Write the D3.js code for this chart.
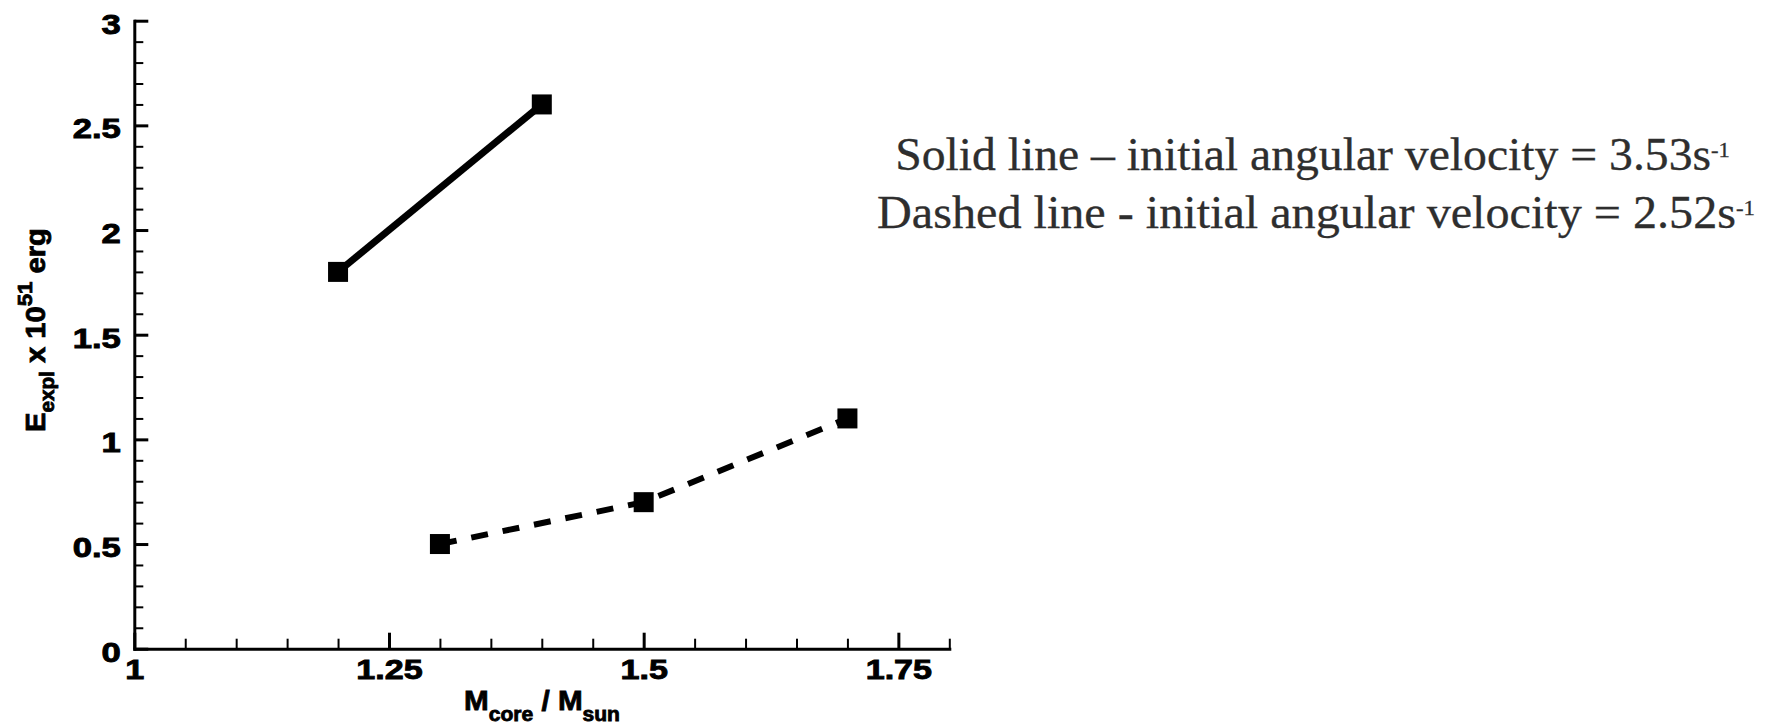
<!DOCTYPE html>
<html>
<head>
<meta charset="utf-8">
<script src="https://cdn.jsdelivr.net/npm/d3@7"></script>
<style>
  body { margin: 0; background: #fff; }
  svg { display: block; }
</style>
</head>
<body>
<div id="chart"></div>
<script>
// chart values
var xMajor = [1, 1.25, 1.5, 1.75];
var yMajor = [0, 0.5, 1, 1.5, 2, 2.5, 3];
var solidMass = [1.2, 1.4];
var solidEnergy = [1.8, 2.6];
var dashedMass = [1.3, 1.5, 1.7];
var dashedEnergy = [0.5, 0.7, 1.1];
var legendLines = [
  { text: "Solid line \u2013 initial angular velocity = 3.53s", sup: "-1" },
  { text: "Dashed line - initial angular velocity = 2.52s", sup: "-1" }
];

var svgWidth = 1771;
var svgHeight = 725;

var svg = d3.select("#chart")
  .append("svg")
  .attr("width", svgWidth)
  .attr("height", svgHeight);

var xScale = d3.scaleLinear().domain([1, 1.8]).range([134.3, 949.3]);
var yScale = d3.scaleLinear().domain([0, 3]).range([648.7, 20.7]);
var x0 = yScale(0);
var y0 = xScale(1);

// minor ticks every 0.05 / 0.1
var xMinor = d3.range(0, 17).map(i => +(1 + i * 0.05).toFixed(2))
  .filter(v => xMajor.indexOf(v) < 0);
var yMinor = d3.range(0, 31).map(i => +(i / 10).toFixed(1))
  .filter(v => yMajor.indexOf(v) < 0);

var labelFont = "'Liberation Sans', Arial, Helvetica, sans-serif";

// stretch tick labels sideways like the original
function stretch(sel, k) {
  sel.each(function() {
    var w = this.getComputedTextLength();
    d3.select(this).attr("textLength", w * k).attr("lengthAdjust", "spacingAndGlyphs");
  });
}

// minor ticks
svg.append("g")
  .attr("transform", `translate(0, ${x0})`)
  .call(d3.axisBottom(xScale).tickValues(xMinor).tickSizeInner(-10).tickSizeOuter(0).tickFormat(""))
  .call(g => g.select(".domain").remove())
  .call(g => g.selectAll("line").attr("stroke", "#000").attr("stroke-width", 2));

svg.append("g")
  .attr("transform", `translate(${y0}, 0)`)
  .call(d3.axisLeft(yScale).tickValues(yMinor).tickSizeInner(-9).tickSizeOuter(0).tickFormat(""))
  .call(g => g.select(".domain").remove())
  .call(g => g.selectAll("line").attr("stroke", "#000").attr("stroke-width", 2));

// major ticks + axis lines
var xAxis = svg.append("g")
  .attr("transform", `translate(0, ${x0})`)
  .call(d3.axisBottom(xScale).tickValues(xMajor).tickSizeInner(-16).tickSizeOuter(0)
    .tickPadding(11).tickFormat(d => String(d)));

var yAxis = svg.append("g")
  .attr("transform", `translate(${y0}, 0)`)
  .call(d3.axisLeft(yScale).tickValues(yMajor).tickSizeInner(-14).tickSizeOuter(0)
    .tickPadding(13.5).tickFormat(d => String(d)));

[xAxis, yAxis].forEach(function(ax) {
  ax.select(".domain").attr("stroke", "#000").attr("stroke-width", 3).attr("stroke-linecap", "square");
  ax.selectAll(".tick line").attr("stroke", "#000").attr("stroke-width", 3);
  ax.selectAll("text")
    .attr("fill", "#000")
    .attr("stroke", "#000")
    .attr("stroke-width", 0.9)
    .attr("font-family", labelFont)
    .attr("font-weight", "bold")
    .attr("font-size", 27.5);
});
yAxis.selectAll("text").attr("dy", "0.45em");
stretch(xAxis.selectAll("text"), 1.24);
stretch(yAxis.selectAll("text"), 1.26);

// data lines
var solidData = solidMass.map((m, i) => ({ x: m, y: solidEnergy[i] }));
var dashedData = dashedMass.map((m, i) => ({ x: m, y: dashedEnergy[i] }));

var line = d3.line().x(d => xScale(d.x)).y(d => yScale(d.y));

svg.append("path")
  .datum(solidData)
  .attr("d", line)
  .attr("fill", "none")
  .attr("stroke", "#000")
  .attr("stroke-width", 7);

svg.append("path")
  .datum(dashedData)
  .attr("d", line)
  .attr("fill", "none")
  .attr("stroke", "#000")
  .attr("stroke-width", 6)
  .attr("stroke-dasharray", "17,15");

var markerSize = 20;
svg.selectAll("rect.marker")
  .data(solidData.concat(dashedData))
  .enter()
  .append("rect")
  .attr("class", "marker")
  .attr("x", d => xScale(d.x) - markerSize / 2)
  .attr("y", d => yScale(d.y) - markerSize / 2)
  .attr("width", markerSize)
  .attr("height", markerSize)
  .attr("fill", "#000");

// axis titles
var xTitle = svg.append("g")
  .attr("transform", "translate(542, 710)")
  .append("text")
  .attr("text-anchor", "middle")
  .attr("font-family", labelFont)
  .attr("font-weight", "bold")
  .attr("font-size", 27.5)
  .attr("fill", "#000")
  .attr("stroke", "#000")
  .attr("stroke-width", 0.8);
xTitle.append("tspan").text("M");
xTitle.append("tspan").attr("font-size", 19.5).attr("dy", 11).text("core");
xTitle.append("tspan").attr("dy", -11).text(" / M");
xTitle.append("tspan").attr("font-size", 19.5).attr("dy", 11).text("sun");

var yTitle = svg.append("g")
  .attr("transform", "translate(45, 330) rotate(-90)")
  .append("text")
  .attr("text-anchor", "middle")
  .attr("font-family", labelFont)
  .attr("font-weight", "bold")
  .attr("font-size", 27.5)
  .attr("fill", "#000")
  .attr("stroke", "#000")
  .attr("stroke-width", 0.8);
yTitle.append("tspan").text("E");
yTitle.append("tspan").attr("font-size", 19.5).attr("dy", 9).text("expl");
yTitle.append("tspan").attr("dy", -9).text(" x 10");
yTitle.append("tspan").attr("font-size", 21).attr("dy", -13).text("51");
yTitle.append("tspan").attr("dy", 13).text(" erg");

function fitWidth(textSel, target) {
  var w = textSel.node().getBBox().width;
  textSel.attr("transform", `scale(${target / w}, 1)`);
}
fitWidth(xTitle, 156);
fitWidth(yTitle, 204);

// legend note
var legendPos = [
  { cx: 1312.5, base: 169.5, width: 835 },
  { cx: 1316, base: 227.5, width: 878 }
];

legendLines.forEach(function(l, i) {
  var p = legendPos[i];
  var t = svg.append("g")
    .attr("transform", `translate(${p.cx}, ${p.base})`)
    .append("text")
    .attr("text-anchor", "middle")
    .attr("font-family", "'Liberation Serif', 'Times New Roman', serif")
    .attr("font-size", 46.5)
    .attr("fill", "#2e2e2e")
    .attr("stroke", "#2e2e2e")
    .attr("stroke-width", 0.3);
  t.append("tspan").text(l.text);
  t.append("tspan").attr("font-size", 22).attr("dy", -13).text(l.sup);
  fitWidth(t, p.width);
});
</script>
</body>
</html>
